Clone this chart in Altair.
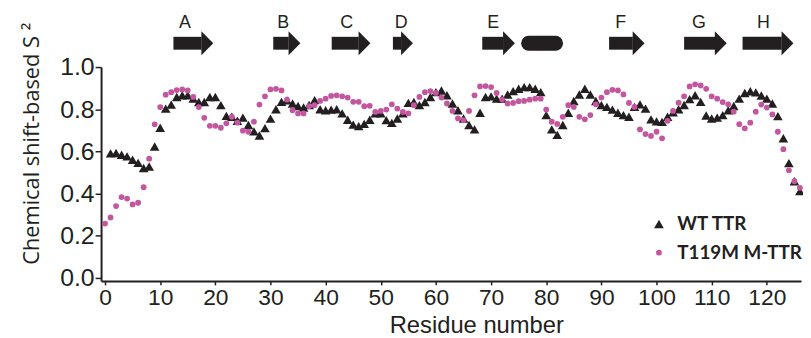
import altair as alt
import pandas as pd

# ---------------- data ----------------
residues_mut = list(range(0, 127))
s2_mut = [
    0.257, 0.286, 0.34, 0.383, 0.376, 0.348, 0.356, 0.43, 0.565, 0.728,
    0.81, 0.869, 0.881, 0.891, 0.894, 0.889, 0.858, 0.81, 0.759, 0.721,
    0.721, 0.712, 0.733, 0.764, 0.736, 0.698, 0.693, 0.741, 0.822, 0.861,
    0.894, 0.897, 0.889, 0.845, 0.795, 0.78, 0.78, 0.814, 0.819, 0.839,
    0.85, 0.863, 0.866, 0.861, 0.855, 0.835, 0.835, 0.814, 0.816, 0.787,
    0.792, 0.798, 0.823, 0.803, 0.787, 0.78, 0.819, 0.858, 0.881, 0.886,
    0.877, 0.855, 0.827, 0.792, 0.756, 0.748, 0.792, 0.866, 0.908, 0.91,
    0.905, 0.877, 0.847, 0.827, 0.83, 0.838, 0.839, 0.845, 0.85, 0.85,
    0.798, 0.741, 0.73, 0.764, 0.819, 0.811, 0.764, 0.752, 0.772, 0.823,
    0.855, 0.881, 0.892, 0.889, 0.87, 0.83, 0.811, 0.704, 0.682, 0.673,
    0.693, 0.662, 0.745, 0.792, 0.831, 0.861, 0.908, 0.918, 0.913, 0.897,
    0.861, 0.85, 0.834, 0.823, 0.788, 0.729, 0.709, 0.736, 0.788, 0.822,
    0.808, 0.775, 0.693, 0.61, 0.51, 0.458, 0.427,
]

residues_wt = list(range(1, 127))
s2_wt = [
    0.59, 0.592, 0.584, 0.576, 0.56, 0.545, 0.521, 0.528, 0.623, 0.712,
    0.803, 0.822, 0.858, 0.866, 0.866, 0.85, 0.834, 0.834, 0.858, 0.858,
    0.819, 0.768, 0.764, 0.745, 0.76, 0.725, 0.695, 0.675, 0.71, 0.755,
    0.80, 0.835, 0.842, 0.827, 0.815, 0.808, 0.82, 0.843, 0.80, 0.795,
    0.798, 0.80, 0.78, 0.75, 0.727, 0.72, 0.73, 0.75, 0.78, 0.78,
    0.748, 0.735, 0.756, 0.78, 0.83, 0.834, 0.819, 0.834, 0.858, 0.881,
    0.889, 0.866, 0.827, 0.795, 0.756, 0.725, 0.704, 0.783, 0.858, 0.861,
    0.85, 0.85, 0.87, 0.886, 0.897, 0.905, 0.905, 0.897, 0.881, 0.772,
    0.704, 0.678, 0.725, 0.783, 0.839, 0.870, 0.897, 0.870, 0.839, 0.819,
    0.811, 0.798, 0.783, 0.772, 0.764, 0.811, 0.823, 0.803, 0.752, 0.742,
    0.74, 0.764, 0.785, 0.80, 0.82, 0.848, 0.866, 0.835, 0.77, 0.756,
    0.76, 0.772, 0.795, 0.815, 0.85, 0.877, 0.885, 0.88, 0.865, 0.85,
    0.827, 0.767, 0.662, 0.544, 0.458, 0.411,
]

series_names = ["WT TTR", "T119M M-TTR"]

# secondary-structure annotation (residue units)
strand_names = ["A", "B", "C", "D", "E", "F", "G", "H"]
strand_start = [12.4, 30.5, 41.1, 52.2, 68.4, 91.4, 105.0, 115.6]
strand_end = [19.6, 35.4, 48.1, 55.8, 74.3, 97.8, 112.7, 124.8]
strand_label_at = [14.5, 32.3, 43.8, 53.7, 70.4, 93.5, 107.7, 119.4]
helix_start = [76.8]
helix_end = [81.7]

x_ticks = list(range(0, 121, 10))
y_ticks = [0.0, 0.2, 0.4, 0.6, 0.8, 1.0]

# ---------------- styling ----------------
INK = "#231f20"
PINK = "#c4569f"
ARROW_Y = 1.113
LABEL_Y = 1.21
HEAD_RES = 2.1

pts = pd.DataFrame({
    "residue": residues_wt + residues_mut,
    "s2": s2_wt + s2_mut,
    "series": [series_names[0]] * len(residues_wt) + [series_names[1]] * len(residues_mut),
})

strands = pd.DataFrame({
    "name": strand_names,
    "start": strand_start,
    "end": strand_end,
    "label_at": strand_label_at,
})
strands["body_end"] = strands["end"] - HEAD_RES
strands["head_at"] = strands["end"] - HEAD_RES / 2

helix = pd.DataFrame({"start": helix_start, "end": helix_end})

xscale = alt.Scale(domain=[-0.72, 126.2], nice=False, zero=False)
yscale = alt.Scale(domain=[-0.015, 1.0], nice=False, zero=False)

x_axis = alt.Axis(
    values=x_ticks, title="Residue number", grid=False,
    labelFont="Liberation Sans", labelFontSize=23, labelPadding=2, tickSize=4,
    titleFont="Liberation Sans", titleFontSize=24, titleFontWeight="normal",
    titleX=379, titleY=52, titleBaseline="alphabetic", titleAlign="center",
)

points = alt.Chart(pts).mark_point(filled=True, opacity=1, strokeWidth=0).encode(
    x=alt.X("residue:Q", scale=xscale, axis=x_axis),
    y=alt.Y("s2:Q", scale=yscale, axis=alt.Axis(
        values=y_ticks, format=".1f", grid=False,
        title="Chemical shift-based S \u00b2",
        labelFont="Liberation Sans", labelFontSize=25, labelPadding=1, tickSize=6,
        titleFont="Open Sans", titleFontSize=22, titleFontWeight="normal",
        titleAngle=270, titleX=-70, titleY=77, titleAlign="center", titleBaseline="middle",
    )),
    shape=alt.Shape("series:N", scale=alt.Scale(domain=series_names, range=["triangle-up", "circle"]),
                    legend=alt.Legend(title=None)),
    color=alt.Color("series:N", scale=alt.Scale(domain=series_names, range=[INK, PINK]),
                    legend=alt.Legend(title=None)),
    size=alt.Size("series:N", scale=alt.Scale(domain=series_names, range=[95, 34]), legend=None),
)

bodies = alt.Chart(strands).mark_rule(strokeWidth=13, color=INK, strokeCap="butt").encode(
    x=alt.X("start:Q", scale=xscale, axis=x_axis),
    x2="body_end:Q",
    y=alt.datum(ARROW_Y),
)

heads = alt.Chart(strands).mark_point(
    shape="M-0.5,-1L0.5,0L-0.5,1Z", size=576, filled=True, color=INK, opacity=1, strokeWidth=0
).encode(
    x=alt.X("head_at:Q", scale=xscale, axis=x_axis),
    y=alt.datum(ARROW_Y),
)

helix_mark = alt.Chart(helix).mark_rule(strokeWidth=15, color=INK, strokeCap="round").encode(
    x=alt.X("start:Q", scale=xscale, axis=x_axis),
    x2="end:Q",
    y=alt.datum(ARROW_Y),
)

labels = alt.Chart(strands).mark_text(font="Liberation Sans", fontSize=18, color=INK).encode(
    x=alt.X("label_at:Q", scale=xscale, axis=x_axis),
    y=alt.datum(LABEL_Y),
    text="name:N",
)

chart = alt.layer(points, bodies, heads, helix_mark, labels).properties(
    width=707, height=216,
    padding={"left": 94, "top": 58, "right": 2, "bottom": 55},
    autosize=alt.AutoSizeParams(type="none"),
).configure_view(stroke=None).configure_axis(
    domainColor=INK, domainWidth=2, tickColor=INK, tickWidth=1.5,
    labelColor=INK, titleColor=INK,
).configure_legend(
    orient="none", legendX=554, legendY=149,
    labelFont="Lato", labelFontWeight="bold", labelFontSize=19, labelColor=INK,
    symbolSize=75, rowPadding=9, labelOffset=9, symbolStrokeWidth=0,
)

chart.save("out.html", embed_options={"renderer": "svg", "actions": False})
